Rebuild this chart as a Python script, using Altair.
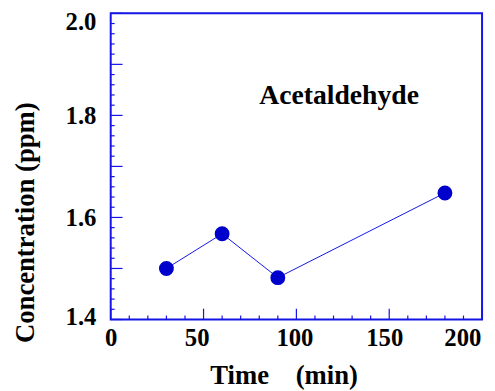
import altair as alt
import pandas as pd

# data
time_min = [30, 60, 90, 180]
conc_ppm = [1.50, 1.568, 1.482, 1.648]
label_text = ["Acetaldehyde"]
label_time = [80]
label_conc = [1.822]

x_major = [0, 50, 100, 150, 200]
x_minor = [v for v in range(0, 201, 10) if v % 50 != 0]
y_major = [1.4, 1.5, 1.6, 1.7, 1.8, 1.9, 2.0]
y_minor = [round(1.4 + 0.02 * i, 2) for i in range(31) if i % 5 != 0]

FONT = "Liberation Serif"
BLUE = "#1414E6"
PT = "#0000CC"

df = pd.DataFrame({"t": time_min, "c": conc_ppm})
xs = alt.Scale(domain=[0, 200], nice=False, zero=False)
ys = alt.Scale(domain=[1.4, 2.0], nice=False, zero=False)

W, H = 376, 310

X_AX = alt.Axis(
    values=x_major, format="d", ticks=False, domain=False, grid=False,
    labelFont=FONT, labelFontWeight="bold", labelFontSize=25, labelColor="black",
    labelPadding=6, labelFlush=False,
    labelOffset=alt.ExprRef(expr="datum.value == 50 ? -7 : datum.value == 100 ? -2 : datum.value == 150 ? -5 : datum.value == 200 ? -20 : 0"),
    title="Time\u00a0\u00a0\u00a0\u00a0(min)", titleFont=FONT, titleFontWeight="bold", titleFontSize=27,
    titleColor="black", titleX=175, titleY=64.5, titleBaseline="alphabetic", titleAlign="center")
Y_AX = alt.Axis(
    values=[1.4, 1.6, 1.8, 2.0], format=".1f", ticks=False, domain=False, grid=False,
    labelFont=FONT, labelFontWeight="bold", labelFontSize=25, labelColor="black",
    labelPadding=15, labelFlush=False,
    labelOffset=alt.ExprRef(expr="datum.value >= 1.99 ? 8 : datum.value <= 1.41 ? -3 : 0"),
    title="Concentration (ppm)", titleFont=FONT, titleFontWeight="bold", titleFontSize=27,
    titleColor="black", titleAngle=-90, titleX=-78, titleY=211.5,
    titleBaseline="alphabetic", titleAlign="center")

def X():
    return alt.X("t:Q", scale=xs, axis=X_AX)

def Y():
    return alt.Y("c:Q", scale=ys, axis=Y_AX)

base = alt.Chart(df).encode(x=X(), y=Y())
line = base.mark_line(color=BLUE, strokeWidth=1)
pts = base.mark_circle(color=PT, size=227, opacity=1)

txt = alt.Chart(pd.DataFrame({"t": label_time, "c": label_conc, "s": label_text})).mark_text(
    font=FONT, fontWeight="bold", fontSize=28, align="left", baseline="alphabetic", color="black"
).encode(x=X(), y=Y(), text="s:N")

def xticks(vals, L):
    return alt.Chart(pd.DataFrame({"t": vals})).mark_rule(color=BLUE, strokeWidth=1.2).encode(
        x=X(), y=alt.value(H), y2=alt.value(H - L))

def yticks(vals, L):
    return alt.Chart(pd.DataFrame({"c": vals})).mark_rule(color=BLUE, strokeWidth=1.2).encode(
        y=Y(), x=alt.value(0), x2=alt.value(L))

chart = alt.layer(
    xticks(x_minor, 4), xticks(x_major, 11), yticks(y_minor, 4), yticks(y_major, 12),
    line, pts, txt
).properties(
    width=W, height=H,
    autosize=alt.AutoSizeParams(type="none"),
    padding={"left": 104, "top": 3, "right": 5, "bottom": 70},
).configure_view(stroke=BLUE, strokeWidth=2)

chart.save("out.html", embed_options={"renderer": "svg", "actions": False})
